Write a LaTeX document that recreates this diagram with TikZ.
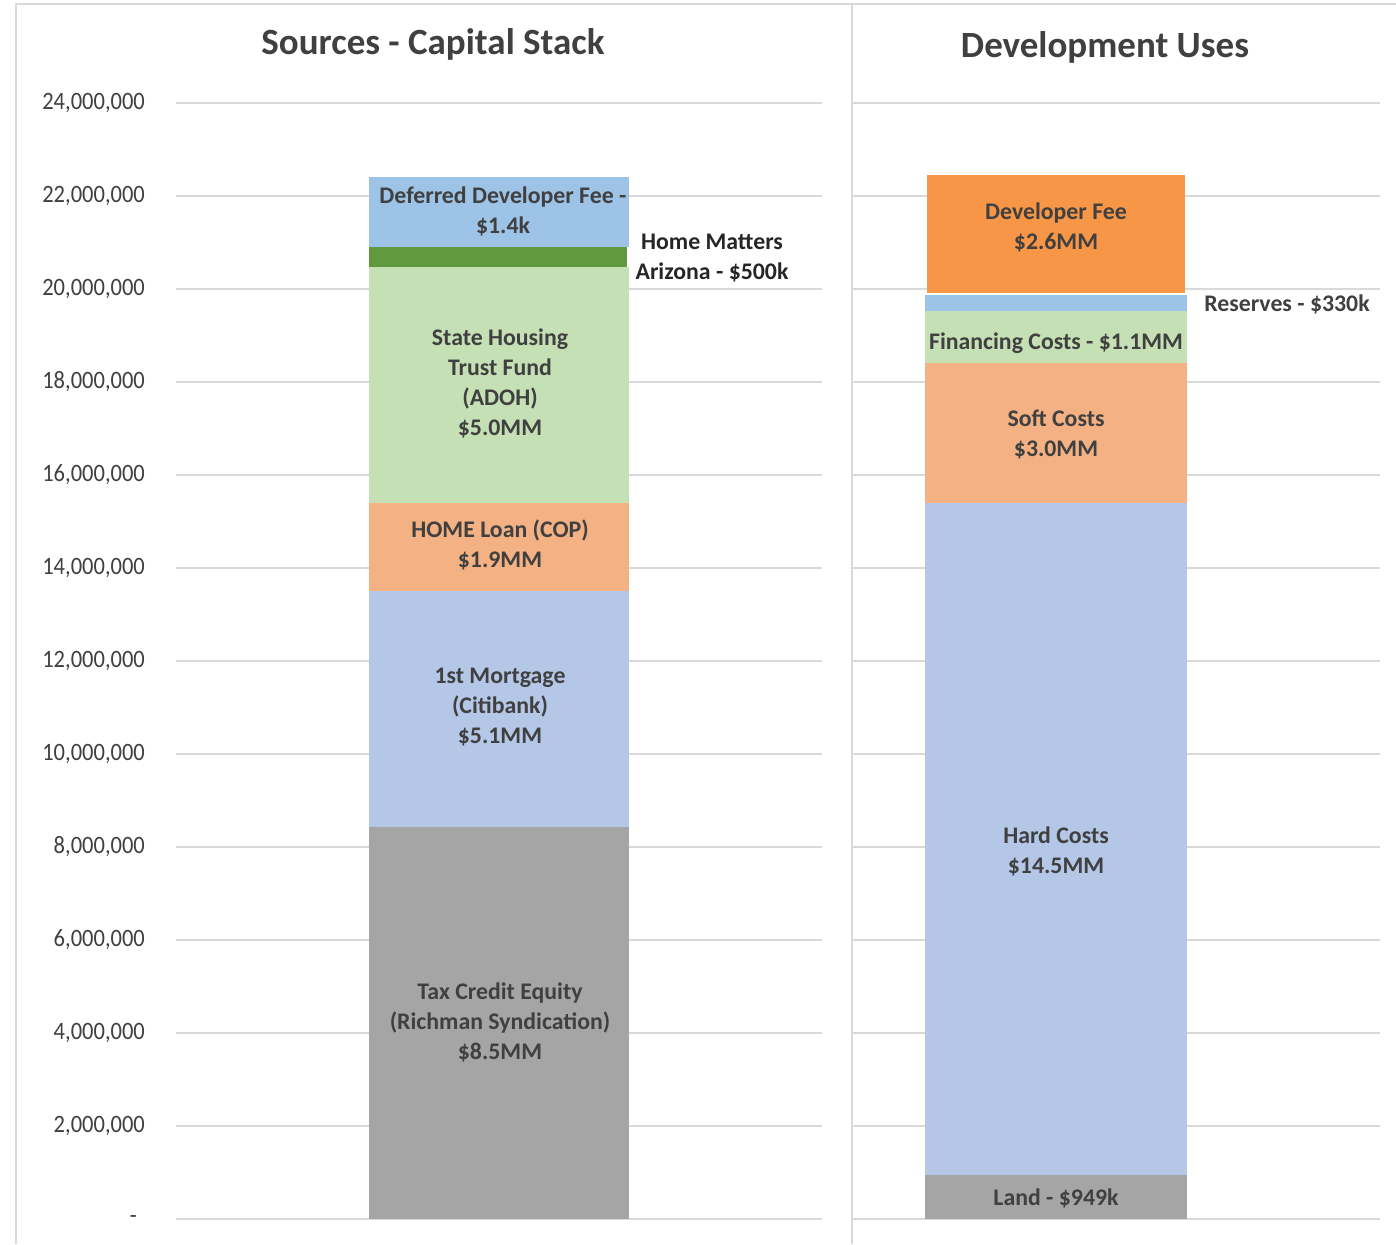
\documentclass[tikz,border=0pt]{standalone}
\usepackage{fontspec}
\setmainfont{Carlito}
\newfontfamily\axisfont{Carlito}[FakeStretch=0.9]
\definecolor{gridc}{HTML}{D9D9D9}
\definecolor{txt}{HTML}{404040}
\definecolor{bgray}{HTML}{A5A5A5}
\definecolor{bblue}{HTML}{B4C7E7}
\definecolor{bsky}{HTML}{9DC3E6}
\definecolor{bpeach}{HTML}{F4B183}
\definecolor{bmint}{HTML}{C5E0B4}
\definecolor{bgreen}{HTML}{619A3E}
\definecolor{borange}{HTML}{F79646}
\tikzset{
  gridline/.style={draw=gridc, line width=2pt},
  frameline/.style={draw=gridc, line width=2pt},
  axislbl/.style={anchor=east, text=txt, inner sep=0pt, font=\axisfont\fontsize{25}{30}\selectfont},
  charttitle/.style={text=txt, inner sep=0pt, font=\bfseries\fontsize{37}{44}\selectfont},
  barlbl/.style={text=txt, inner sep=0pt, align=center, font=\bfseries\fontsize{23.8}{30}\selectfont},
  sidelbl/.style={text=black!85, inner sep=0pt, align=center, font=\bfseries\fontsize{23.8}{30}\selectfont},
}
\begin{document}
\begin{tikzpicture}[x=1pt,y=-1pt]
  \useasboundingbox (0,0) rectangle (1396,1244);
  \fill[white] (0,0) rectangle (1396,1244);

  % chart frames
  \draw[frameline] (16,1244) -- (16,4) -- (1396,4);
  \draw[frameline] (852,4) -- (852,1244);

  % horizontal gridlines and value axis labels
  \foreach \v/\lbl [count=\i] in {2/{2,000,000},4/{4,000,000},6/{6,000,000},8/{8,000,000},10/{10,000,000},12/{12,000,000},14/{14,000,000},16/{16,000,000},18/{18,000,000},20/{20,000,000},22/{22,000,000},24/{24,000,000}}{
    \pgfmathsetmacro{\yy}{1219-\v*46.5}
    \draw[gridline] (176,\yy) -- (822,\yy);
    \draw[gridline] (852,\yy) -- (1380,\yy);
    \node[axislbl] (tick\i) at (145,\yy) {\lbl};
  }
  % zero line, its label in accounting style
  \draw[gridline] (176,1219) -- (822,1219);
  \draw[gridline] (852,1219) -- (1380,1219);
  \node[axislbl] (tick0) at (137,1219) {-};

  % titles
  \node[charttitle] (tsrc) at (433,44) {Sources - Capital Stack};
  \node[charttitle] (tuse) at (1105,47) {Development Uses};

  % sources stack
  \fill[bgray]  (369,1219) rectangle (629,827);
  \fill[bblue]  (369,827)  rectangle (629,591);
  \fill[bpeach] (369,591)  rectangle (629,503);
  \fill[bmint]  (369,503)  rectangle (629,267);
  \fill[bgreen] (369,267)  rectangle (627,247);
  \fill[bsky]   (369,247)  rectangle (629,177);

  \node[barlbl] (sDef) at (503,211) {Deferred Developer Fee -\\\$1.4k};
  \node[sidelbl] (sHM) at (712,258) {Home Matters\\Arizona - \$500k};
  \node[barlbl] (sSHTF) at (500,383) {State Housing\\Trust Fund\\(ADOH)\\\$5.0MM};
  \node[barlbl] (sHome) at (500,545) {HOME Loan (COP)\\\$1.9MM};
  \node[barlbl] (sMort) at (500,707) {1st Mortgage\\(Citibank)\\\$5.1MM};
  \node[barlbl] (sTax) at (500,1022) {Tax Credit Equity\\(Richman Syndication)\\\$8.5MM};

  % uses stack
  \fill[bgray]   (925,1219) rectangle (1187,1175);
  \fill[bblue]   (925,1175) rectangle (1187,503);
  \fill[bpeach]  (925,503)  rectangle (1187,363);
  \fill[bmint]   (925,363)  rectangle (1187,311);
  \fill[bsky]    (925,311)  rectangle (1187,295);
  \fill[borange] (927,293)  rectangle (1185,175);

  \node[barlbl] (uDev) at (1056,227) {Developer Fee\\\$2.6MM};
  \node[barlbl] (uRes) at (1287,304) {Reserves - \$330k};
  \node[barlbl] (uFin) at (1056,343) {Financing Costs - \$1.1MM};
  \node[barlbl] (uSoft) at (1056,434) {Soft Costs\\\$3.0MM};
  \node[barlbl] (uHard) at (1056,851) {Hard Costs\\\$14.5MM};
  \node[barlbl] (uLand) at (1056,1198) {Land - \$949k};
\end{tikzpicture}
\end{document}
